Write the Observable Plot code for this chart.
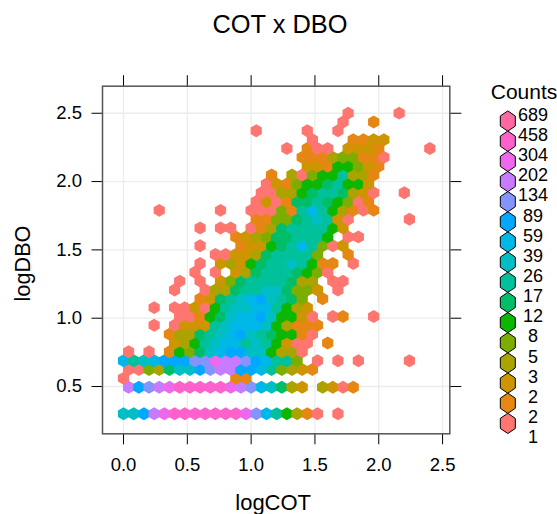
<!DOCTYPE html>
<html>
<head>
<meta charset="utf-8">
<script src="https://cdn.jsdelivr.net/npm/d3@7"></script>
<script src="https://cdn.jsdelivr.net/npm/@observablehq/plot@0.6"></script>
<style>
  html, body { margin: 0; padding: 0; background: #fff; }
  #chart { position: relative; width: 557px; height: 514px; overflow: hidden; }
  #chart svg { display: block; background: transparent; }
  #legend { position: absolute; left: 480px; top: 75px; }
</style>
</head>
<body>
<div id="chart"><div id="main"></div><div id="legend"></div></div>
<script>
// Hexbin cells: one string per lattice row, one character per column, "." = empty.
// The character is the colour level (hex digit).
const rowsLevels = [
  "88acdeeeeeeedb975310.0",
  "",
  "",
  "cabcdeeeeedcb98632.3201",
  "0..........11",
  "0043688abccaa974321",
  "9789aaabbdccba9774.0.0.0....0",
  "0.0.154689aa885330",
  ".....23578997875200.1",
  "....1336789a8765510",
  "...0.022278999853111",
  ".....00156899a85520.01..0",
  "...0.00205788997532",
  ".......126789a8764.1",
  ".....0..033677886442.0",
  ".....0.0.2467777633.00",
  ".......0.0.2367776540",
  ".......0.232567787511.0",
  ".........00223677774..1",
  ".......0...12256797402",
  "...........1234667775.00",
  ".......0.00.0136777752",
  ".............1144678720.....0",
  "...0.....0..0004179753101",
  ".............020166765401",
  ".............003356776320..0",
  "..............02145567552",
  "..............1.304557331",
  "..................22155421",
  ".................111344110",
  "................0.100.2221....0",
  "..................0...1122",
  ".............0....0..0",
  ".....................0..1",
  "......................0....0"
];
const xStep = 0.08;      // hexbin column pitch in logCOT
const yStep = 0.0647;    // hexbin row pitch in logDBO
const yStart = 0.301;

const levelColors = ["#FF7570", "#E68613", "#CD9600", "#ABA300", "#7CAE00", "#0CB702", "#00BE67", "#00C19A",
                     "#00BFC4", "#00B8E7", "#00A9FF", "#8494FF", "#C77CFF", "#ED68ED", "#FF61CC", "#FF68A1"];
const levels = d3.range(levelColors.length);
const countLabels = ["689", "458", "304", "202", "134", "89", "59", "39", "26", "17", "12", "8", "5", "3", "2", "2", "1"];

const xTicks = [0, 0.5, 1, 1.5, 2, 2.5];
const yTicks = [0.5, 1, 1.5, 2, 2.5];
const xDomain = [-0.1646, 2.5566];
const yDomain = [0.154, 2.698];

const cells = [];
rowsLevels.forEach((s, k) => {
  Array.from(s).forEach((c, n) => {
    if (c !== ".") cells.push({
      logCOT: n * xStep + (k % 2 ? xStep / 2 : 0),
      logDBO: yStart + k * yStep,
      level: parseInt(c, 16)
    });
  });
});

const font = "'Liberation Sans', Arial, sans-serif";
const tickCommon = {stroke: "#000", strokeWidth: 1, label: null};

const main = Plot.plot({
  width: 557, height: 514,
  marginLeft: 102, marginRight: 107.7, marginTop: 85.7, marginBottom: 80.7,
  style: {fontFamily: font, fontSize: "18.5px", color: "#000", background: "transparent"},
  x: {domain: xDomain},
  y: {domain: yDomain},
  color: {type: "ordinal", domain: levels, range: levelColors},
  marks: [
    Plot.gridX(xTicks, {stroke: "#ececec", strokeOpacity: 1, strokeWidth: 1.3}),
    Plot.gridY(yTicks, {stroke: "#ececec", strokeOpacity: 1, strokeWidth: 1.3}),
    Plot.dot(cells, {x: "logCOT", y: "logDBO", fill: "level", symbol: "hexagon", r: 5.6}),
    Plot.axisX({...tickCommon, anchor: "bottom", tickSize: 11, ticks: xTicks, tickFormat: ".1f", tickPadding: 13, fill: "#000"}),
    Plot.axisX({...tickCommon, anchor: "top", tickSize: 11.5, ticks: xTicks, fill: "none"}),
    Plot.axisY({...tickCommon, anchor: "left", tickSize: 10.5, ticks: yTicks, tickFormat: ".1f", tickPadding: 10, fill: "#000"}),
    Plot.axisY({...tickCommon, anchor: "right", tickSize: 11, ticks: yTicks, fill: "none"}),
    Plot.frame({stroke: "#555", strokeWidth: 1.5}),
    Plot.text(["COT x DBO"], {frameAnchor: "top", dy: -61.5, dx: 3.8, fontSize: 25.4, lineAnchor: "middle", fill: "#000"}),
    Plot.text(["logCOT"], {frameAnchor: "bottom", dy: 69, dx: -3, fontSize: 22, lineAnchor: "middle", fill: "#000"}),
    Plot.text(["logDBO"], {frameAnchor: "left", dx: -79, dy: 3.5, rotate: -90, fontSize: 21.7, lineAnchor: "middle", textAnchor: "middle", fill: "#000"})
  ]
});
document.getElementById("main").append(main);

// Tall hexagon used by the key
const tallHexagon = {
  draw(ctx, size) {
    const rx = Math.sqrt(size / Math.PI), ry = rx * 1.35, hy = ry / 2;
    ctx.moveTo(0, ry); ctx.lineTo(rx, hy); ctx.lineTo(rx, -hy);
    ctx.lineTo(0, -ry); ctx.lineTo(-rx, -hy); ctx.lineTo(-rx, hy); ctx.closePath();
  }
};

const keyRank = levels.map(l => ({level: l, rank: levels.length - 1 - l + 0.3}));
const labelRank = countLabels.map((t, i) => ({t, rank: i}));

const legend = Plot.plot({
  width: 77, height: 375,
  marginLeft: 0, marginRight: 0, marginTop: 39.5, marginBottom: 375 - 362,
  style: {fontFamily: font, fontSize: "18px", color: "#000", background: "transparent"},
  x: {domain: [0, 77], axis: null},
  y: {domain: [0, 16], reverse: true, axis: null},
  color: {type: "ordinal", domain: levels, range: levelColors},
  marks: [
    Plot.dot(keyRank, {x: () => 27.3, y: "rank", fill: "level", stroke: "#000", strokeWidth: 1, symbol: tallHexagon, r: 7.5}),
    Plot.text(labelRank, {x: () => 52.5, y: "rank", text: "t", textAnchor: "middle", lineAnchor: "middle", fill: "#000"}),
    Plot.text(["Counts"], {frameAnchor: "top", dx: 5, dy: -23, fontSize: 21, lineAnchor: "middle", fill: "#000"})
  ]
});
document.getElementById("legend").append(legend);
</script>
</body>
</html>
